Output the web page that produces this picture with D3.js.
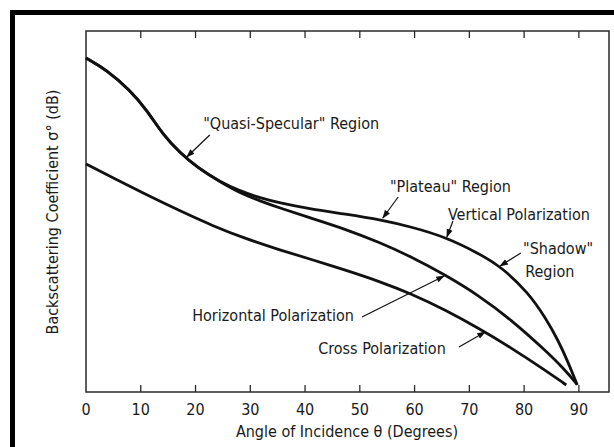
<!DOCTYPE html>
<html>
<head>
<meta charset="utf-8">
<script src="https://cdn.jsdelivr.net/npm/d3@7/dist/d3.min.js"></script>
<style>
	body{margin:0;background:#fff}
	#chart text{font-family:"Liberation Sans Narrow","DejaVu Sans Condensed","Roboto Condensed",sans-serif;fill:#1a1a1a}
</style>
</head>
<body>
<div id="chart"></div>
<script>

// angle of incidence (deg) and backscatter (dB, relative)
const vertAngle=[0,3.8,8.0,11.1,14.1,17.2,20.2,24.5,28.1,31.8,35.4,41.0,47.3,54.0,59.5,65.6,71.6,75.9,80.8,83.8,86.2,88.1,89.7]
const vertDb=[-2.7,-3.9,-5.9,-7.9,-10.4,-12.2,-13.6,-15.1,-16.0,-16.7,-17.2,-17.8,-18.3,-18.9,-19.6,-20.6,-22.2,-23.6,-26.2,-28.6,-30.9,-33.2,-35.4]

const horizAngle=[0,3.8,8.0,11.1,14.1,17.2,20.2,24.5,28.1,31.8,35.4,41.0,47.3,53.4,59.5,65.6,71.6,77.7,83.8,87.5,89.6]
const horizDb=[-2.7,-3.9,-5.9,-7.9,-10.4,-12.2,-13.6,-15.1,-16.2,-17.0,-17.7,-18.7,-19.8,-21.1,-22.6,-24.4,-26.4,-28.9,-31.9,-33.9,-35.3]

const crossAngle=[0,5.0,11.1,17.2,23.2,29.3,35.4,41.5,47.3,53.4,59.5,65.6,71.6,77.7,83.8,87.7]
const crossDb=[-13.3,-14.7,-16.4,-18.0,-19.5,-20.8,-21.9,-22.9,-23.9,-25.0,-26.3,-27.9,-29.7,-31.7,-33.9,-35.4]

const tickValues=[10,20,30,40,50,60,70,80,90]
const tickLabels=["0","10","20","30","40","50","60","70","80","90"]

// labels: text anchor and arrow (from -> to), in angle / dB
const noteText=["\"Quasi-Specular\" Region","\"Plateau\" Region","Vertical Polarization","\"Shadow\"","Region","Horizontal Polarization","Cross Polarization"]
const noteAt=[[21.4,-9.8],[55.5,-16.1],[66.1,-18.9],[79.8,-22.3],[80.2,-24.6],[19.4,-29.0],[42.4,-32.3]]
const arrows=[
	[[22.6,-10.4],[18.4,-12.6]],
	[[57.0,-16.6],[54.2,-18.7]],
	[[67.0,-19.0],[65.9,-20.6]],
	[[79.4,-22.2],[75.6,-23.5]],
	[[50.4,-28.6],[65.4,-24.5]],
	[[68.1,-31.6],[72.9,-30.1]]
]

class BackscatterChart{

	constructor(){
		this.w=614
		this.h=447
		this.svg=d3.select("#chart").append("svg")
			.attr("width",this.w)
			.attr("height",this.h)
	}

	draw(){
		this.drawFrame()
		this.drawAxis()
		this.drawLines()
		this.drawNotes()
	}

	drawFrame(){
		this.svg.append("rect")
			.attr("x",12.5).attr("y",12.5)
			.attr("width",640).attr("height",470)
			.attr("fill","none")
			.attr("stroke","#000")
			.attr("stroke-width",5)
	}

	drawAxis(){
		this.x=d3.scaleLinear().domain([0,95.5]).range([86,609])
		this.y=d3.scaleLinear().domain([-36.1,0]).range([392,31])
		var x=this.x,y=this.y

		var g=this.svg.append("g")

		g.append("rect")
			.attr("x",x(0)).attr("y",y(0))
			.attr("width",x(95.5)-x(0)).attr("height",y(-36.1)-y(0))
			.attr("fill","none")
			.attr("stroke","#2a2a2a")
			.attr("stroke-width",1.5)

		// ticks point inward on top and bottom
		g.selectAll(".tb").data(tickValues).enter().append("line")
			.attr("x1",d=>x(d)).attr("x2",d=>x(d))
			.attr("y1",y(-36.1)).attr("y2",y(-36.1)-7)
			.attr("stroke","#2a2a2a").attr("stroke-width",1.3)
		g.selectAll(".tt").data(tickValues).enter().append("line")
			.attr("x1",d=>x(d)).attr("x2",d=>x(d))
			.attr("y1",y(0)).attr("y2",y(0)+7)
			.attr("stroke","#2a2a2a").attr("stroke-width",1.3)

		g.selectAll(".tl").data(tickLabels).enter().append("text")
			.attr("x",(d)=>x(+d))
			.attr("y",415)
			.attr("text-anchor","middle")
			.attr("font-size",16)
			.text(d=>d)

		g.append("text")
			.attr("x",347).attr("y",437)
			.attr("text-anchor","middle")
			.attr("font-size",16)
			.text("Angle of Incidence \u03b8 (Degrees)")

		g.append("text")
			.attr("transform","translate(58,212) rotate(-90)")
			.attr("text-anchor","middle")
			.attr("font-size",16)
			.text("Backscattering Coefficient \u03c3\u00b0 (dB)")
	}

	drawLines(){
		var thi=this
		var line=d3.line()
			.x(d=>thi.x(d[0]))
			.y(d=>thi.y(d[1]))
			.curve(d3.curveBasis)

		var series=[
			d3.zip(vertAngle,vertDb),
			d3.zip(horizAngle,horizDb),
			d3.zip(crossAngle,crossDb)
		]
		this.svg.append("g").selectAll("path").data(series).enter().append("path")
			.attr("d",line)
			.attr("fill","none")
			.attr("stroke","#111")
			.attr("stroke-width",2.8)
			.attr("stroke-linejoin","round")
	}

	drawNotes(){
		var x=this.x,y=this.y

		this.svg.append("defs").append("marker")
			.attr("id","head")
			.attr("viewBox","0 -4 10 8")
			.attr("refX",9).attr("refY",0)
			.attr("markerWidth",9).attr("markerHeight",7)
			.attr("markerUnits","userSpaceOnUse")
			.attr("orient","auto")
			.append("path")
			.attr("d","M0,-3.5L10,0L0,3.5Z")
			.attr("fill","#111")

		this.svg.append("g").selectAll("line").data(arrows).enter().append("line")
			.attr("x1",d=>x(d[0][0])).attr("y1",d=>y(d[0][1]))
			.attr("x2",d=>x(d[1][0])).attr("y2",d=>y(d[1][1]))
			.attr("stroke","#111")
			.attr("stroke-width",1.2)
			.attr("marker-end","url(#head)")

		this.svg.append("g").selectAll("text").data(noteText).enter().append("text")
			.attr("x",(d,i)=>x(noteAt[i][0]))
			.attr("y",(d,i)=>y(noteAt[i][1]))
			.attr("font-size",16)
			.text(d=>d)
	}
}

var chart=new BackscatterChart()
chart.draw()

</script>
</body>
</html>
